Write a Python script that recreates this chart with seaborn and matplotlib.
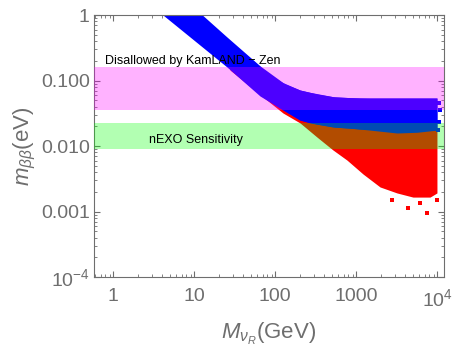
import numpy as np
import pandas as pd
import matplotlib
matplotlib.use("Agg")
import matplotlib.pyplot as plt
import seaborn as sns

# ==========================================
# DATA
# ==========================================
# blue region (upper / lower edges of the dense scatter)
blue_upper_M = [4.0, 11.8, 27.6, 56.1, 86.0, 132.0, 202.0, 327.0, 546.0, 1110.0, 9900.0]
blue_upper_m = [3.5, 1.0, 0.401, 0.191, 0.121, 0.0885, 0.0716, 0.0622, 0.056, 0.054, 0.054]
blue_lower_M = [4.0, 4.11, 25.3, 64.8, 124.5, 202.0, 268.0, 515.0, 835.0, 1476.0, 3180.0, 5610.0, 9900.0]
blue_lower_m = [1.05, 1.0, 0.161, 0.058, 0.0355, 0.0249, 0.0225, 0.0195, 0.0188, 0.0175, 0.0158, 0.0162, 0.0175]

# red region (lower edge, upper part sits under the blue)
red_M = [27.6, 70.5, 124.5, 202.0, 327.0, 515.0, 767.0, 1210.0, 1963.0, 3180.0, 5010.0, 8130.0, 9900.0]
red_lower_m = [0.1446, 0.056, 0.0319, 0.0225, 0.0137, 0.0087, 0.0061, 0.00374, 0.00237, 0.00192, 0.00166, 0.00166, 0.00192]
red_upper_m = [0.30, 0.12, 0.06, 0.04, 0.03, 0.025, 0.022, 0.02, 0.019, 0.018, 0.018, 0.018, 0.019]

# isolated points at the tail
red_dots_M = [2750, 4350, 6110, 7460, 9900, 8800]
red_dots_m = [0.0015, 0.00113, 0.00135, 0.00095, 0.0015, 0.0021]
blue_dots_M = [10800, 10500, 10300, 10600]
blue_dots_m = [0.0355, 0.0233, 0.0175, 0.045]

# experimental bands
kamland = (0.036, 0.16)
nexo = (0.009, 0.0224)

x_ticks = [1, 10, 100, 1000, 10000]
x_labels = ["1", "10", "100", "1000", "$10^4$"]
y_ticks = [1e-4, 1e-3, 1e-2, 1e-1, 1]
y_labels = ["$10^{-4}$", "0.001", "0.010", "0.100", "1"]

# ==========================================
# STYLE
# ==========================================
sns.set_style("ticks")
plt.rcParams["font.family"] = ["Liberation Sans", "DejaVu Sans"]
plt.rcParams["mathtext.fontset"] = "custom"
plt.rcParams["mathtext.rm"] = "Liberation Sans"
plt.rcParams["mathtext.it"] = "Liberation Sans:italic"

GRAY = "#6e6e6e"

fig = plt.figure(figsize=(4.54, 3.46), dpi=100)
ax = fig.add_axes([0.207, 0.1994, 0.771, 0.7572])
ax.set_xscale("log")
ax.set_yscale("log")

# scatter regions
ax.fill_between(red_M, red_lower_m, red_upper_m, color="#ff0000", lw=0, zorder=1)
ax.fill_between(blue_upper_M, np.interp(np.log(blue_upper_M), np.log(blue_lower_M), blue_lower_m),
                blue_upper_m, color="#0000ff", lw=0, zorder=2)
ax.fill_between(blue_lower_M, blue_lower_m,
                np.interp(np.log(blue_lower_M), np.log(blue_upper_M), blue_upper_m),
                color="#0000ff", lw=0, zorder=2)
sns.scatterplot(x=red_dots_M, y=red_dots_m, color="#ff0000", marker="s", s=5,
                linewidth=0, ax=ax, zorder=2)
sns.scatterplot(x=blue_dots_M, y=blue_dots_m, color="#0000ff", marker="s", s=5,
                linewidth=0, ax=ax, zorder=3)

# experimental bands (transparent, on top)
ax.axhspan(*kamland, color=(1, 0, 1), alpha=0.3, lw=0, zorder=4)
ax.axhspan(*nexo, color=(0, 1, 0), alpha=0.3, lw=0, zorder=4)

ax.text(0.79, 0.177, "Disallowed by KamLAND \u2212 Zen", fontsize=9, color="black",
        va="baseline", ha="left", zorder=5)
ax.text(2.76, 0.0111, "nEXO Sensitivity", fontsize=9, color="black",
        va="baseline", ha="left", zorder=5)

ax.set_xlim(0.578, 12100)
ax.set_ylim(1e-4, 1)
ax.set_xticks(x_ticks)
ax.set_xticklabels(x_labels)
ax.set_yticks(y_ticks)
ax.set_yticklabels(y_labels)

ax.tick_params(which="both", direction="in", top=True, right=True, colors=GRAY,
               labelsize=14, labelcolor=GRAY)
ax.tick_params(which="major", length=4, width=0.8)
ax.tick_params(which="minor", length=2, width=0.6)
ax.tick_params(axis="x", pad=8)
ax.tick_params(axis="y", pad=3)
for s in ax.spines.values():
    s.set_color(GRAY)
    s.set_linewidth(0.8)

ax.set_xlabel(r"$M_{\nu_R}$(GeV)", fontsize=16, color=GRAY, labelpad=8)
ax.set_ylabel(r"$m_{\beta\beta}$(eV)", fontsize=16, color=GRAY, labelpad=2)

fig.savefig("out.png", dpi=100)
